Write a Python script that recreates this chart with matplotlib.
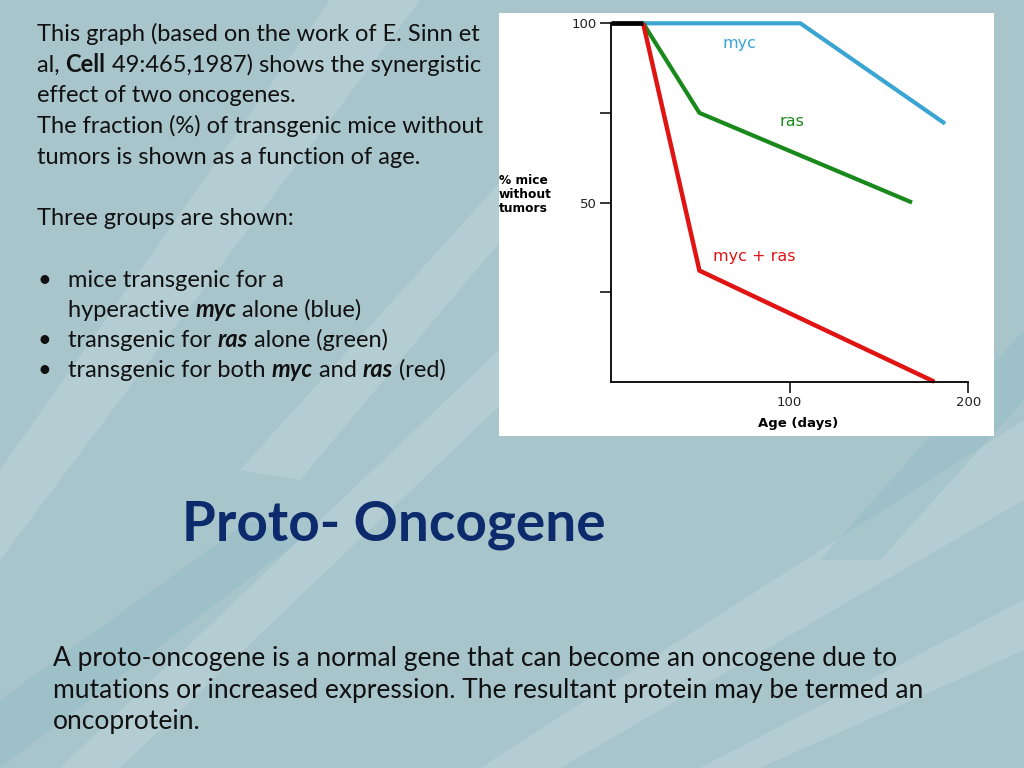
import matplotlib
matplotlib.use('Agg')
import matplotlib.pyplot as plt
from matplotlib.patches import Rectangle, Polygon

# survival curves (age in days, % mice without tumors)
myc_age = [18, 106, 187]
myc_pct = [100, 100, 72]
ras_age = [18, 49.5, 168.5]
ras_pct = [100, 75, 50]
both_age = [18, 49.5, 181]
both_pct = [100, 31, 0]
start_age = [0, 18]
start_pct = [100, 100]

y_ticks = [25, 50, 75, 100]
y_labels = ['', '50', '', '100']
x_ticks = [100, 200]
x_labels = ['100', '200']

W, H = 1024, 768
fig = plt.figure(figsize=(W / 100, H / 100), dpi=100)
fig.patch.set_facecolor('#a9c5cc')


def fx(px):
    return px / W


def fy(py):
    return 1 - py / H


# a few soft streaks to hint at the slide texture
streaks = [
    [(0, 560), (0, 470), (330, 0), (420, 0)],
    [(120, 768), (60, 768), (520, 330), (600, 310)],
    [(560, 768), (480, 768), (1024, 420), (1024, 500)],
    [(760, 768), (700, 768), (1024, 600), (1024, 650)],
    [(300, 480), (240, 470), (520, 160), (560, 170)],
]
for s in streaks:
    fig.patches.append(Polygon([(fx(a), fy(b)) for a, b in s], closed=True,
                               transform=fig.transFigure, facecolor='#d3e2e4',
                               edgecolor='none', alpha=0.28, zorder=0))
for s in [[(0, 768), (0, 700), (250, 520), (300, 540)],
          [(880, 560), (820, 560), (1024, 330), (1024, 400)]]:
    fig.patches.append(Polygon([(fx(a), fy(b)) for a, b in s], closed=True,
                               transform=fig.transFigure, facecolor='#7fb3bd',
                               edgecolor='none', alpha=0.25, zorder=0))

# white panel holding the graph
fig.patches.append(Rectangle((fx(499), fy(436)), 495 / W, 423 / H,
                             transform=fig.transFigure, facecolor='white',
                             edgecolor='none', zorder=1))

ax = fig.add_axes([fx(611), fy(381.7), (968.3 - 611) / W, (381.7 - 23.3) / H])
ax.set_zorder(2)
ax.patch.set_alpha(0)
ax.set_xlim(0, 200)
ax.set_ylim(0, 100)
for side in ['top', 'right']:
    ax.spines[side].set_visible(False)
for side in ['left', 'bottom']:
    ax.spines[side].set_linewidth(1.3)
    ax.spines[side].set_color('black')

ax.plot(myc_age, myc_pct, color='#3aa5d2', lw=3.0, solid_capstyle='butt', clip_on=False)
ax.plot(ras_age, ras_pct, color='#19891c', lw=3.0, solid_capstyle='butt', clip_on=False)
ax.plot(both_age, both_pct, color='#e11414', lw=3.2, solid_capstyle='butt', clip_on=False)
ax.plot(start_age, start_pct, color='black', lw=3.4, solid_capstyle='butt', clip_on=False)

CH = 'DejaVu Sans'
ax.text(72, 94.5, 'myc', color='#3aa5d2', fontsize=11.5, ha='center', va='center', family=CH)
ax.text(101.5, 72.6, 'ras', color='#19891c', fontsize=11.5, ha='center', va='center', family=CH)
ax.text(80, 35, 'myc + ras', color='#e11414', fontsize=11.5, ha='center', va='center', family=CH)

ax.set_yticks(y_ticks)
ax.set_yticklabels(y_labels)
ax.set_xticks(x_ticks)
ax.set_xticklabels(x_labels)
ax.tick_params(axis='both', direction='out', length=8, width=1.1, colors='black',
               labelsize=9.5, pad=2)
for lab in ax.get_xticklabels() + ax.get_yticklabels():
    lab.set_family(CH)
    lab.set_color('#222222')

fig.text(fx(499), fy(195), '% mice\nwithout\ntumors', fontsize=8.8, fontweight='bold',
         family=CH, ha='left', va='center', linespacing=1.1, zorder=3)
fig.text(fx(798), fy(423), 'Age (days)', fontsize=9.5, fontweight='bold',
         family=CH, ha='center', va='center', zorder=3)

# slide text
renderer = fig.canvas.get_renderer()
BODY = 'Lato'


def seg_width(txt, size, weight, style):
    a = fig.text(0, 0, '|' + txt + '|', fontsize=size, fontweight=weight,
                 fontstyle=style, family=BODY)
    b = fig.text(0, 0, '||', fontsize=size, fontweight=weight,
                 fontstyle=style, family=BODY)
    w = a.get_window_extent(renderer).width - b.get_window_extent(renderer).width
    a.remove()
    b.remove()
    return w


def line(px, py, parts, size=17, color='#111111'):
    x = px
    for txt, weight, style in parts:
        fig.text(fx(x), fy(py), txt, fontsize=size, fontweight=weight, fontstyle=style,
                 family=BODY, color=color, ha='left', va='baseline', zorder=3)
        x += seg_width(txt, size, weight, style)


N = 'normal'
I = 'italic'
B = 'bold'

line(37, 41, [('This graph (based on the work of E. Sinn et', N, N)])
line(37, 72, [('al, ', N, N), ('Cell', B, N), (' 49:465,1987) shows the synergistic', N, N)])
line(37, 102, [('effect of two oncogenes.', N, N)])
line(37, 133, [('The fraction (%) of transgenic mice without', N, N)])
line(37, 164, [('tumors is shown as a function of age.', N, N)])
line(37, 225, [('Three groups are shown:', N, N)])
for by in [287, 347, 377]:
    line(37, by, [('\u2022', N, N)])
line(68, 287, [('mice transgenic for a', N, N)])
line(68, 317, [('hyperactive ', N, N), ('myc', B, I), (' alone (blue)', N, N)])
line(68, 347, [('transgenic for ', N, N), ('ras', B, I), (' alone (green)', N, N)])
line(68, 377, [('transgenic for both ', N, N), ('myc', B, I), (' and ', N, N),
               ('ras', B, I), (' (red)', N, N)])

fig.text(fx(182), fy(541), 'Proto- Oncogene', fontsize=39.5, fontweight='bold',
         family=BODY, color='#0c2a6c', ha='left', va='baseline', zorder=3)

line(53, 666, [('A proto-oncogene is a normal gene that can become an oncogene due to', N, N)], size=19)
line(53, 698, [('mutations or increased expression. The resultant protein may be termed an', N, N)], size=19)
line(53, 729, [('oncoprotein.', N, N)], size=19)

fig.savefig('out.png', dpi=100, facecolor=fig.get_facecolor())
